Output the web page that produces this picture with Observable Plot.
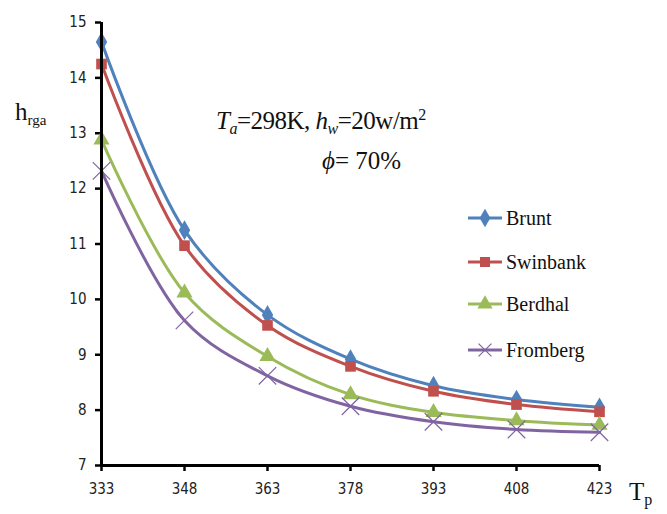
<!DOCTYPE html>
<html>
<head>
<meta charset="utf-8">
<script src="https://cdn.jsdelivr.net/npm/d3@7"></script>
<script src="https://cdn.jsdelivr.net/npm/@observablehq/plot@0.6"></script>
<style>
  body { margin: 0; background: #fff; }
  #wrap { position: relative; width: 667px; height: 514px; overflow: hidden; }
  .serif { font-family: "Liberation Serif", "Times New Roman", serif; color: #111; position: absolute; white-space: nowrap; }
  #legend { position: absolute; left: 466px; top: 200px; }
  .leg { position: absolute; left: 0; height: 30px; display: flex; align-items: center; }
  .leg span { font-family: "Liberation Serif", "Times New Roman", serif; font-size: 20px; color: #111; margin-left: 2px; }
</style>
</head>
<body>
<div id="wrap"></div>
<script>
const temps = [333, 348, 363, 378, 393, 408, 423];
const seriesNames = ["Brunt", "Swinbank", "Berdhal", "Fromberg"];
const brunt    = [14.65, 11.25, 9.72, 8.92, 8.44, 8.19, 8.05];
const swinbank = [14.25, 10.97, 9.53, 8.79, 8.34, 8.10, 7.97];
const berdhal  = [12.88, 10.12, 8.97, 8.28, 7.96, 7.81, 7.73];
const fromberg = [12.32, 9.62, 8.62, 8.07, 7.79, 7.65, 7.60];
const yTicks = [7, 8, 9, 10, 11, 12, 13, 14, 15];
const colors = ["#4f81bd", "#c0504d", "#9bbb59", "#8064a2"];
const symbols = ["diamond", "square", "triangle", "times"];

const valuesBySeries = [brunt, swinbank, berdhal, fromberg];
const data = [];
seriesNames.forEach((s, i) => temps.forEach((t, j) => data.push({series: s, T: t, h: valuesBySeries[i][j]})));

const tickFont = '"Liberation Sans Narrow", "Arial Narrow", "DejaVu Sans Condensed", sans-serif';

const chart = Plot.plot({
  width: 667,
  height: 514,
  marginLeft: 101,
  marginRight: 68,
  marginTop: 22,
  marginBottom: 49,
  style: {background: "transparent", fontFamily: tickFont, fontSize: "15px", color: "#222", overflow: "visible"},
  x: {domain: [333, 423]},
  y: {domain: [7, 15]},
  color: {domain: seriesNames, range: colors},
  symbol: {domain: seriesNames, range: symbols},
  marks: [
    Plot.axisY({ticks: yTicks, tickSize: 6, tickPadding: 9, stroke: "#000", strokeWidth: 2.5, label: null, tickFormat: d => d}),
    Plot.axisX({ticks: temps, tickSize: 6, tickPadding: 12, stroke: "#000", strokeWidth: 2.5, label: null, tickFormat: d => d}),
    Plot.line(data, {x: "T", y: "h", z: "series", stroke: "series", strokeWidth: 3, curve: "catmull-rom"}),
    Plot.dot(data.filter(d => d.series !== "Fromberg"), {x: "T", y: "h", symbol: "series", fill: "series", r: 6}),
    Plot.dot(data.filter(d => d.series === "Fromberg"), {x: "T", y: "h", symbol: "series", stroke: "series", strokeWidth: 1.2, r: 8}),
    Plot.ruleX([333], {y1: 7, y2: 15, stroke: "#000", strokeWidth: 3}),
    Plot.ruleY([7], {x1: 333, x2: 423, stroke: "#000", strokeWidth: 3})
  ]
});

const wrap = document.getElementById("wrap");
chart.style.position = "absolute";
chart.style.left = "0";
chart.style.top = "0";
wrap.appendChild(chart);

function addText(html, left, top, size, extra) {
  const d = document.createElement("div");
  d.className = "serif";
  d.style.left = left + "px";
  d.style.top = top + "px";
  d.style.fontSize = size + "px";
  if (extra) Object.assign(d.style, extra);
  d.innerHTML = html;
  wrap.appendChild(d);
}
addText('h<sub style="font-size:15px;vertical-align:-5px">rga</sub>', 15, 98, 25);
addText('T<sub style="font-size:16px;vertical-align:-5px">p</sub>', 629, 478, 25);
addText('<i>T<sub style="font-size:16px;vertical-align:-5px">a</sub></i>=298K, <i>h<sub style="font-size:16px;vertical-align:-5px">w</sub></i>=20w/m<sup style="font-size:16px;vertical-align:9px">2</sup>', 216, 106, 25, {letterSpacing: "-0.5px"});
addText('<i>ϕ</i>= 70%', 322, 147, 25);

// legend
const legend = document.createElement("div");
legend.id = "legend";
const legendTops = [3, 47, 89, 135];
seriesNames.forEach((s, i) => {
  const row = document.createElement("div");
  row.className = "leg";
  row.style.top = legendTops[i] + "px";
  const sym = d3.symbol(
    [d3.symbolDiamond, d3.symbolSquare, d3.symbolTriangle, d3.symbolTimes][i],
    i === 3 ? 110 : 100
  )();
  const filled = i !== 3;
  row.innerHTML = `<svg width="38" height="30" style="overflow:visible">
      <line x1="2" x2="36" y1="15" y2="15" stroke="${colors[i]}" stroke-width="3"/>
      <path d="${sym}" transform="translate(19,15)" fill="${filled ? colors[i] : "none"}" stroke="${filled ? "none" : colors[i]}" stroke-width="1.2"/>
    </svg><span>${s}</span>`;
  legend.appendChild(row);
});
wrap.appendChild(legend);
</script>
</body>
</html>
